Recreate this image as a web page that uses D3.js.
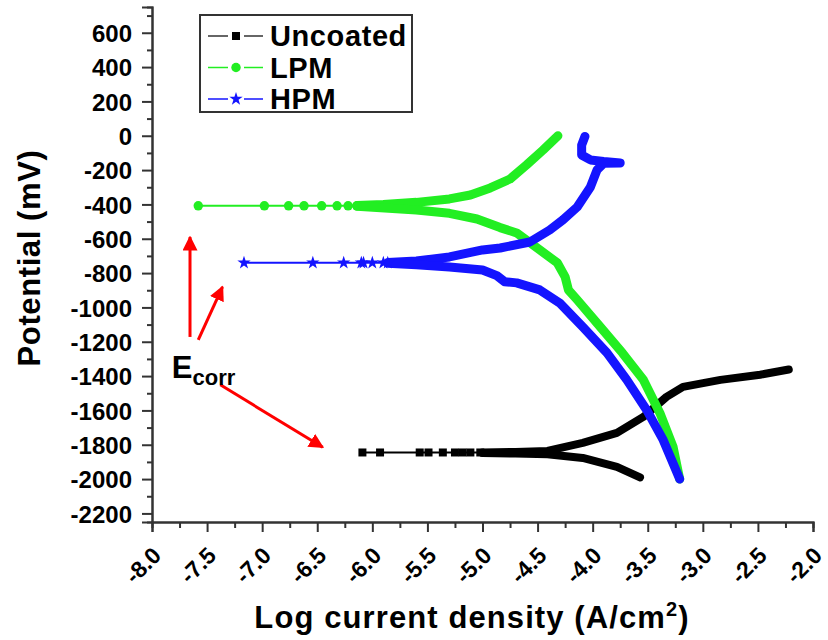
<!DOCTYPE html>
<html><head><meta charset="utf-8">
<script src="https://cdn.jsdelivr.net/npm/d3@7"></script>
<style>body{margin:0;background:#fff}svg{display:block}text{font-family:"Liberation Sans",Arial,sans-serif;font-weight:bold}</style>
</head><body><svg id="c" width="828" height="640"></svg>
<script>
// ---- data ----
const xTicks = [-8.0,-7.5,-7.0,-6.5,-6.0,-5.5,-5.0,-4.5,-4.0,-3.5,-3.0,-2.5,-2.0];
const yTicks = [600,400,200,0,-200,-400,-600,-800,-1000,-1200,-1400,-1600,-1800,-2000,-2200];
const seriesNames = ["Uncoated","LPM","HPM"];

const uncoatedEcorr = -1845;
const uncoatedMarkerLog = [-6.09,-5.93,-5.57,-5.49,-5.36,-5.25,-5.18,-5.11,-5.02];
const uncoatedAnodic = [[-5.0,-1845],[-4.7,-1842],[-4.41,-1836],[-4.09,-1789],[-3.78,-1731],[-3.54,-1638],[-3.33,-1521],[-3.18,-1463],[-2.84,-1422],[-2.48,-1392],[-2.22,-1362]];
const uncoatedCathodic = [[-5.0,-1848],[-4.7,-1851],[-4.41,-1855],[-4.09,-1877],[-3.78,-1929],[-3.57,-1990]];

const lpmEcorr = -408;
const lpmMarkerLog = [-7.58,-6.98,-6.76,-6.62,-6.46,-6.32,-6.22,-6.14];
const lpmAnodic = [[-6.14,-406],[-5.9,-400],[-5.6,-388],[-5.3,-368],[-5.11,-345],[-4.93,-304],[-4.75,-252],[-4.6,-170],[-4.45,-83],[-4.315,0]];
const lpmCathodic = [[-6.14,-411],[-5.6,-432],[-5.3,-452],[-5.05,-485],[-4.84,-535],[-4.69,-566],[-4.48,-665],[-4.32,-741],[-4.25,-822],[-4.22,-898],[-4.14,-956],[-3.93,-1114],[-3.73,-1265],[-3.54,-1422],[-3.39,-1615],[-3.27,-1813],[-3.21,-2000]];

const hpmEcorr = -740;
const hpmMarkerLog = [-7.165,-6.54,-6.26,-6.10,-6.08,-6.0,-5.9,-5.86];
const hpmAnodic = [[-5.86,-739],[-5.6,-730],[-5.3,-706],[-5.0,-665],[-4.84,-654],[-4.57,-619],[-4.39,-549],[-4.27,-490],[-4.14,-415],[-4.02,-298],[-3.96,-199],[-3.9,-160],[-3.75,-159],[-3.9,-150],[-4.02,-141],[-4.1,-112],[-4.1,-54],[-4.07,-4]];
const hpmCathodic = [[-5.86,-743],[-5.6,-752],[-5.3,-764],[-5.0,-782],[-4.87,-815],[-4.8,-850],[-4.69,-857],[-4.48,-898],[-4.3,-974],[-4.09,-1114],[-3.87,-1265],[-3.69,-1422],[-3.51,-1597],[-3.36,-1772],[-3.21,-2000]];

// annotation arrows (data units): [x1,y1,x2,y2]
const arrows = [[-7.655,-1172,-7.655,-590],[-7.58,-1189,-7.36,-880],[-7.38,-1451,-6.45,-1815]];
const ecorrLabel = [-7.82,-1411];

// ---- layout ----
const svg = d3.select("#c");
const x = d3.scaleLinear().domain([-8,-2]).range([152,813]);
const y = d3.scaleLinear().domain([-2250,750]).range([522,7]);
const colors = {Uncoated:"#000000", LPM:"#22ee22", HPM:"#1414ff"};
const hy = s => s.replace("\u2212","-");

// axes
const yAxis = d3.axisLeft(y).tickValues(yTicks).tickSize(10).tickPadding(10).tickFormat(d=>hy(d3.format("d")(d)));
const yMinor = d3.axisLeft(y).tickValues(d3.range(-2100,751,200)).tickSize(5).tickFormat("");
const xAxis = d3.axisBottom(x).tickValues(xTicks).tickSize(10).tickFormat(d=>hy(d3.format(".1f")(d)));
const xMinor = d3.axisBottom(x).tickValues(d3.range(-7.75,-2,0.5)).tickSize(6).tickFormat("");

const gy = svg.append("g").attr("transform","translate(152,0)").call(yAxis);
svg.append("g").attr("transform","translate(152,0)").call(yMinor);
const gx = svg.append("g").attr("transform","translate(0,522)").call(xAxis);
svg.append("g").attr("transform","translate(0,522)").call(xMinor);
svg.selectAll(".domain").attr("stroke","#333").attr("stroke-width",2);
svg.selectAll(".tick line").attr("stroke","#333").attr("stroke-width",2);
gy.selectAll("text").attr("font-size",24).attr("fill","#000").attr("dy","0.36em");
gx.selectAll("text").attr("font-size",23).attr("fill","#000")
  .attr("text-anchor","end").attr("y",0).attr("dy",0).attr("transform","translate(10,35) rotate(-45)");

svg.append("text").attr("transform","translate(40,258) rotate(-90)").attr("text-anchor","middle")
  .attr("font-size",31).attr("letter-spacing",0.6).text("Potential (mV)");
const xt = svg.append("text").attr("x",472).attr("y",628).attr("text-anchor","middle").attr("font-size",31).attr("letter-spacing",1.1);
xt.append("tspan").text("Log current density (A/cm");
xt.append("tspan").attr("font-size",20).attr("dy",-12).text("2");
xt.append("tspan").attr("dy",12).text(")");

// series
const line = d3.line().x(d=>x(d[0])).y(d=>y(d[1]));
const plot = svg.append("g");
function drawSeries(name, ecorr, markerLog, anodic, cathodic, bandW){
  const c = colors[name];
  const sparse = markerLog.map(v=>[v,ecorr]);
  plot.append("path").attr("d",line(sparse.concat([[anodic[0][0],ecorr]]))).attr("fill","none").attr("stroke",c).attr("stroke-width",2);
  [anodic,cathodic].forEach(br=>{
    plot.append("path").attr("d",line(br)).attr("fill","none").attr("stroke",c)
      .attr("stroke-width",bandW).attr("stroke-linecap","round").attr("stroke-linejoin","round");
  });
  return sparse;
}
const uSp = drawSeries("Uncoated",uncoatedEcorr,uncoatedMarkerLog,uncoatedAnodic,uncoatedCathodic,8);
const lSp = drawSeries("LPM",lpmEcorr,lpmMarkerLog,lpmAnodic,lpmCathodic,9);
const hSp = drawSeries("HPM",hpmEcorr,hpmMarkerLog,hpmAnodic,hpmCathodic,9);
const sym = {Uncoated:d3.symbol().type(d3.symbolSquare).size(64), LPM:d3.symbol().type(d3.symbolCircle).size(70), HPM:d3.symbol().type(d3.symbolStar).size(55)};
[["Uncoated",uSp],["LPM",lSp],["HPM",hSp]].forEach(([n,pts])=>{
  plot.selectAll(null).data(pts).enter().append("path").attr("d",sym[n]())
    .attr("transform",d=>`translate(${x(d[0])},${y(d[1])})`).attr("fill",colors[n]);
});

// arrows
svg.append("defs").append("marker").attr("id","ah").attr("viewBox","0 0 10 10").attr("refX",9).attr("refY",5)
  .attr("markerWidth",5).attr("markerHeight",5).attr("orient","auto-start-reverse").attr("markerUnits","strokeWidth")
  .append("path").attr("d","M0,0 L10,5 L0,10 z").attr("fill","#ff0000");
svg.selectAll(null).data(arrows).enter().append("line")
  .attr("x1",d=>x(d[0])).attr("y1",d=>y(d[1])).attr("x2",d=>x(d[2])).attr("y2",d=>y(d[3]))
  .attr("stroke","#ff0000").attr("stroke-width",3).attr("marker-end","url(#ah)");
const et = svg.append("text").attr("x",x(ecorrLabel[0])).attr("y",y(ecorrLabel[1])).attr("font-size",31);
et.append("tspan").text("E");
et.append("tspan").attr("font-size",22).attr("dy",7).text("corr");

// legend
const lg = svg.append("g");
lg.append("rect").attr("x",200).attr("y",15).attr("width",212).attr("height",97).attr("fill","#fff").attr("stroke","#333").attr("stroke-width",2);
seriesNames.forEach((n,i)=>{
  const yy = 36 + i*31.5;
  lg.append("line").attr("x1",208).attr("x2",228).attr("y1",yy).attr("y2",yy).attr("stroke",n==="Uncoated"?"#333":colors[n]).attr("stroke-width",1.5);
  lg.append("line").attr("x1",244).attr("x2",263).attr("y1",yy).attr("y2",yy).attr("stroke",n==="Uncoated"?"#333":colors[n]).attr("stroke-width",1.5);
  lg.append("path").attr("d",sym[n]()).attr("transform",`translate(236,${yy})`).attr("fill",colors[n]);
  lg.append("text").attr("x",270).attr("y",yy).attr("dy","0.36em").attr("font-size",29).attr("letter-spacing",0.6).text(n);
});
</script></body></html>
